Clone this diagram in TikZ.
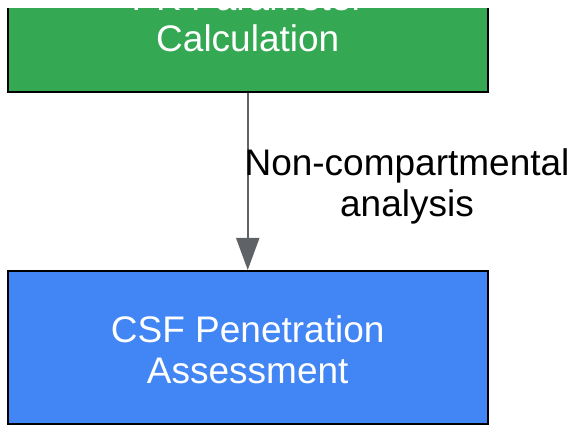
\documentclass[tikz,border=0pt]{standalone}
\usepackage{fontspec}
\setmainfont{Liberation Sans}
\usetikzlibrary{arrows.meta}
\definecolor{boxgreen}{HTML}{34A853}
\definecolor{boxblue}{HTML}{4285F4}
\definecolor{arrowgray}{HTML}{5F6368}
\newcommand{\lowr}[1]{\raisebox{-2.5pt}[\height][\depth]{#1}}
\begin{document}
\begin{tikzpicture}[x=1pt,y=-1pt,
  box/.style={draw=black, line width=2pt, minimum width=479.5pt, inner sep=0pt,
    text=white, align=center, font=\fontsize{37}{41.5}\selectfont},
  lbl/.style={text=black, align=center, inner sep=0pt, font=\fontsize{37}{41.5}\selectfont},
  conn/.style={draw=arrowgray, line width=2pt, -{Triangle[length=32pt,width=23pt]}}]
\useasboundingbox (0,0) rectangle (574,425);
\node[box, fill=boxgreen, minimum height=147pt] (pk) at (247.75,18.5) {PK Parameter\\Calculation};
\node[box, fill=boxblue, minimum height=153pt] (csf) at (247.75,347.5) {\lowr{CSF Penetration}\\\lowr{Assessment}};
\draw[conn] (pk.south) -- (csf.north);
\node[lbl] (nca) at (407,186.4) {Non-compartmental\\analysis};
\fill[white] (-2,-60) rectangle (580,8);
\end{tikzpicture}
\end{document}
